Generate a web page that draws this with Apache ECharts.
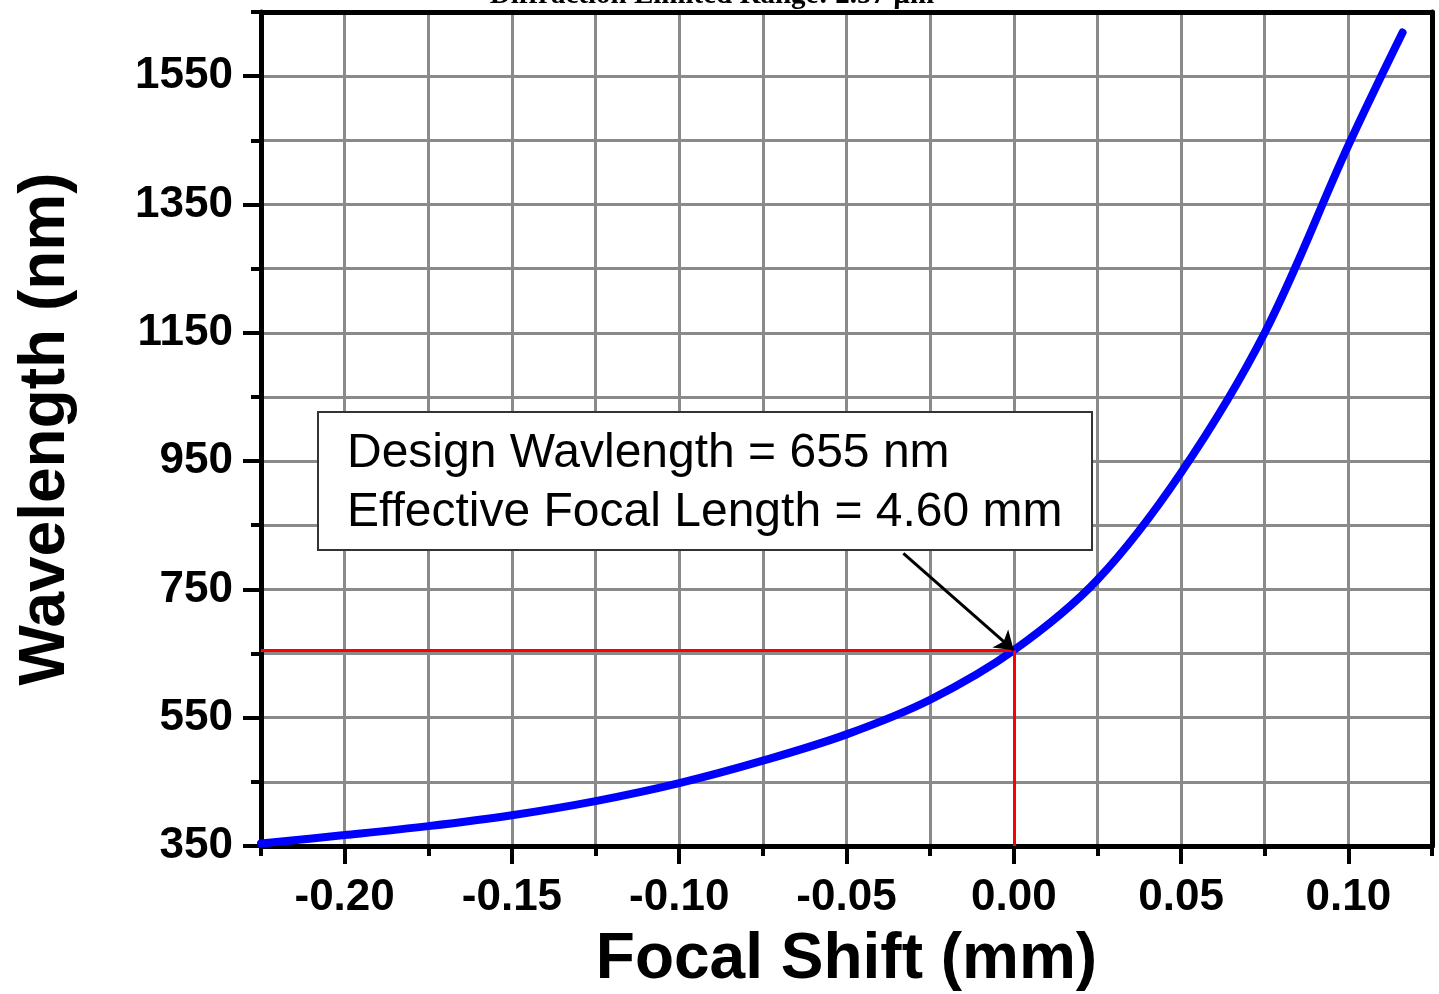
<!DOCTYPE html>
<html>
<head>
<meta charset="utf-8">
<script src="https://cdn.jsdelivr.net/npm/echarts@6.0.0/dist/echarts.min.js"></script>
<style>
html,body{margin:0;padding:0;background:#fff;}
#chart{width:1439px;height:994px;}
</style>
</head>
<body>
<div id="chart"></div>
<script>
// ---- data ----
const focalShift = [-0.225, -0.20, -0.175, -0.15, -0.125, -0.10, -0.075, -0.05, -0.025, 0.0, 0.025, 0.05, 0.075, 0.10, 0.1162];
const wavelength = [354, 367, 381, 398, 420, 448, 483, 524, 578, 655, 765, 932, 1150, 1442, 1618];
const xMajorTicks = [-0.20, -0.15, -0.10, -0.05, 0.00, 0.05, 0.10];
const yMajorTicks = [350, 550, 750, 950, 1150, 1350, 1550];
const designPoint = [0.0, 655];
const arrowStart = [-0.033, 806];
const xRange = [-0.225, 0.125];
const yRange = [350, 1650];
const titleText = 'Diffraction Limited Range: 2.57 \u00b5m';
const noteLines = ['Design Wavlength = 655 nm', 'Effective Focal Length = 4.60 mm'];

const chart = echarts.init(document.getElementById('chart'));
const F = 'Liberation Sans, Arial, Helvetica, sans-serif';
const black = {color: '#000', width: 5};
const tickStyle = {color: '#000', width: 4};
const gridLine = {color: '#8a8a8a', width: 3};

const option = {
  backgroundColor: '#fff',
  animation: false,
  grid: {left: 261, right: 7, top: 12, bottom: 148, containLabel: false, outerBoundsMode: 'none'},
  xAxis: [
    {
      type: 'value', min: xRange[0], max: xRange[1], interval: 0.025, position: 'bottom',
      axisLine: {show: true, onZero: false, lineStyle: black},
      axisTick: {show: true, length: 10, lineStyle: tickStyle},
      axisLabel: {show: false},
      splitLine: {show: true, lineStyle: gridLine},
      name: 'Focal Shift (mm)', nameLocation: 'middle', nameGap: 82,
      nameTextStyle: {fontFamily: F, fontWeight: 'bold', fontSize: 64, color: '#000'}
    },
    {
      type: 'value', min: xRange[0], max: xRange[1], position: 'bottom',
      axisLine: {show: false, onZero: false},
      axisTick: {show: true, length: 18, customValues: xMajorTicks, lineStyle: tickStyle},
      axisLabel: {show: true, customValues: xMajorTicks, formatter: v => v.toFixed(2),
        fontFamily: F, fontWeight: 'bold', fontSize: 44, color: '#000', margin: 30},
      splitLine: {show: false}
    },
    {
      type: 'value', min: xRange[0], max: xRange[1], position: 'top',
      axisLine: {show: true, onZero: false, lineStyle: black},
      axisTick: {show: false}, axisLabel: {show: false}, splitLine: {show: false}
    }
  ],
  yAxis: [
    {
      type: 'value', min: yRange[0], max: yRange[1], interval: 100, position: 'left',
      axisLine: {show: true, onZero: false, lineStyle: black},
      axisTick: {show: true, length: 10, lineStyle: tickStyle},
      axisLabel: {show: false},
      splitLine: {show: true, lineStyle: gridLine},
      name: 'Wavelength (nm)', nameLocation: 'middle', nameGap: 183,
      nameTextStyle: {fontFamily: F, fontWeight: 'bold', fontSize: 64, color: '#000'}
    },
    {
      type: 'value', min: yRange[0], max: yRange[1], position: 'left',
      axisLine: {show: false, onZero: false},
      axisTick: {show: true, length: 18, customValues: yMajorTicks, lineStyle: tickStyle},
      axisLabel: {show: true, customValues: yMajorTicks, formatter: v => String(v),
        fontFamily: F, fontWeight: 'bold', fontSize: 44, color: '#000', margin: 28},
      splitLine: {show: false}
    },
    {
      type: 'value', min: yRange[0], max: yRange[1], position: 'right',
      axisLine: {show: true, onZero: false, lineStyle: black},
      axisTick: {show: false}, axisLabel: {show: false}, splitLine: {show: false}
    }
  ],
  graphic: [
    {
      type: 'text', z: 100,
      style: {text: titleText, x: 712, y: 10, textAlign: 'center', textVerticalAlign: 'bottom',
        font: 'bold 29px "Liberation Serif", "Times New Roman", serif', fill: '#000'}
    },
    {
      type: 'rect', z: 100, shape: {x: 318, y: 412, width: 774, height: 138},
      style: {fill: '#fff', stroke: '#333', lineWidth: 2}
    },
    {
      type: 'text', z: 101,
      style: {text: noteLines[0], x: 347, y: 454, textVerticalAlign: 'middle',
        font: '48px "Liberation Sans", Arial, sans-serif', fill: '#000'}
    },
    {
      type: 'text', z: 101,
      style: {text: noteLines[1], x: 347, y: 513, textVerticalAlign: 'middle',
        font: '48px "Liberation Sans", Arial, sans-serif', fill: '#000'}
    }
  ],
  series: [
    {
      type: 'line', data: [], z: 1, silent: true,
      markLine: {
        silent: true, symbol: 'none', animation: false,
        label: {show: false},
        lineStyle: {color: '#ff0000', width: 3, type: 'solid'},
        data: [
          [{coord: [xRange[0], designPoint[1]]}, {coord: designPoint}],
          [{coord: [designPoint[0], yRange[0]]}, {coord: designPoint}]
        ]
      }
    },
    {
      type: 'line', z: 3,
      data: focalShift.map((x, i) => [x, wavelength[i]]),
      smooth: 0.35, showSymbol: false, symbol: 'none',
      lineStyle: {color: '#0000ff', width: 8, cap: 'round'}
    },
    {
      type: 'line', data: [], z: 5, silent: true,
      markLine: {
        silent: true, animation: false, symbol: ['none', 'arrow'], symbolSize: 18,
        label: {show: false},
        lineStyle: {color: '#000', width: 3, type: 'solid'},
        data: [[{coord: arrowStart}, {coord: designPoint}]]
      }
    }
  ]
};
chart.setOption(option);
</script>
</body>
</html>
